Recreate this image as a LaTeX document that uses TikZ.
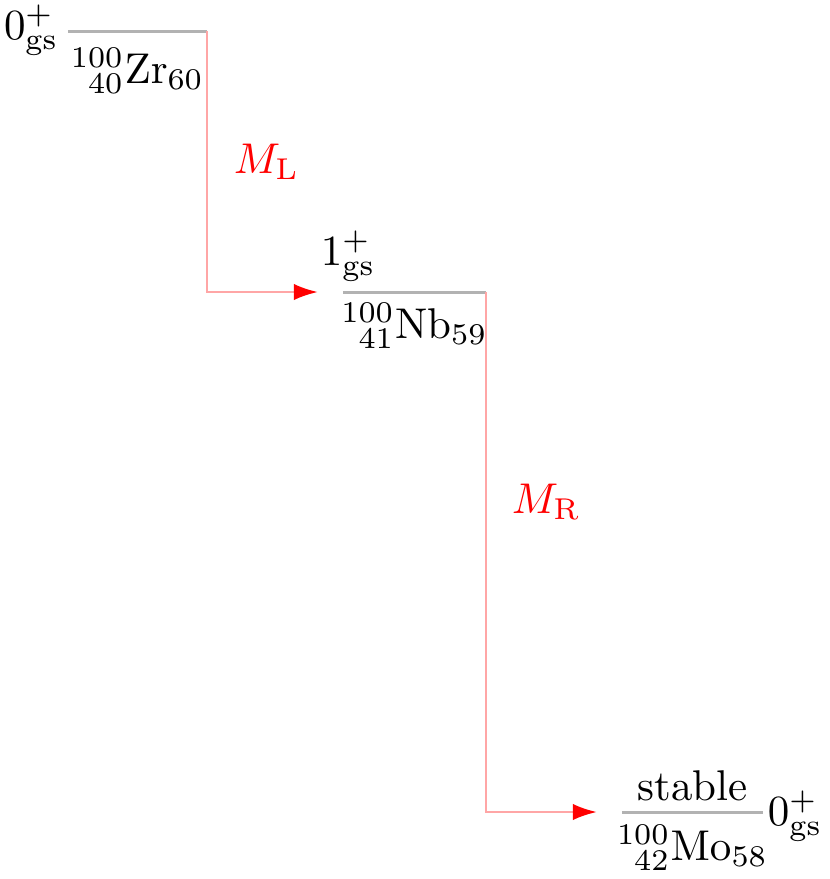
\documentclass[tikz,border=0pt]{standalone}
\usetikzlibrary{arrows.meta}
\begin{document}
\begin{tikzpicture}[x=0.2326pt,y=-0.2326pt,
  level/.style={draw=black!30, line width=0.7pt},
  trans/.style={draw=red!35, line width=0.6pt, -{Latex[length=5.6pt,width=3.8pt,color=red]}},
  txt/.style={inner sep=0pt, outer sep=0pt},
  mlab/.style={txt, text=red}]
\useasboundingbox (0,0) rectangle (830,879);
% level ends
\coordinate (zrL) at (68,31);  \coordinate (zrR) at (207,31);
\coordinate (nbL) at (343,292); \coordinate (nbR) at (486,292);
\coordinate (moL) at (622,812); \coordinate (moR) at (763,812);
\coordinate (a1) at (318,292);
\coordinate (a2) at (597,812);
% levels
\draw[level] (zrL) -- (zrR);
\draw[level] (nbL) -- (nbR);
\draw[level] (moL) -- (moR);
% transitions
\draw[trans] (zrR) |- (a1);
\draw[trans] (nbR) |- (a2);
% labels
\node[txt, anchor=base west] (jzr) at (4,39) {$0^+_{\mathrm{gs}}$};
\node[txt, anchor=base] (zr) at (137.5,83) {${}^{100}_{\phantom{1}40}\mathrm{Zr}_{60}$};
\node[txt, anchor=base west] (jnb) at (321,265) {$1^+_{\mathrm{gs}}$};
\node[txt, anchor=base] (nb) at (414.5,338) {${}^{100}_{\phantom{1}41}\mathrm{Nb}_{59}$};
\node[txt, anchor=base] (st) at (692.5,800) {stable};
\node[txt, anchor=base] (mo) at (692.5,860) {${}^{100}_{\phantom{1}42}\mathrm{Mo}_{58}$};
\node[txt, anchor=base west] (jmo) at (768,825) {$0^+_{\mathrm{gs}}$};
\node[mlab, anchor=base west] (ml) at (234,173) {$M_{\mathrm{L}}$};
\node[mlab, anchor=base west] (mr) at (512,513) {$M_{\mathrm{R}}$};
\end{tikzpicture}
\end{document}
